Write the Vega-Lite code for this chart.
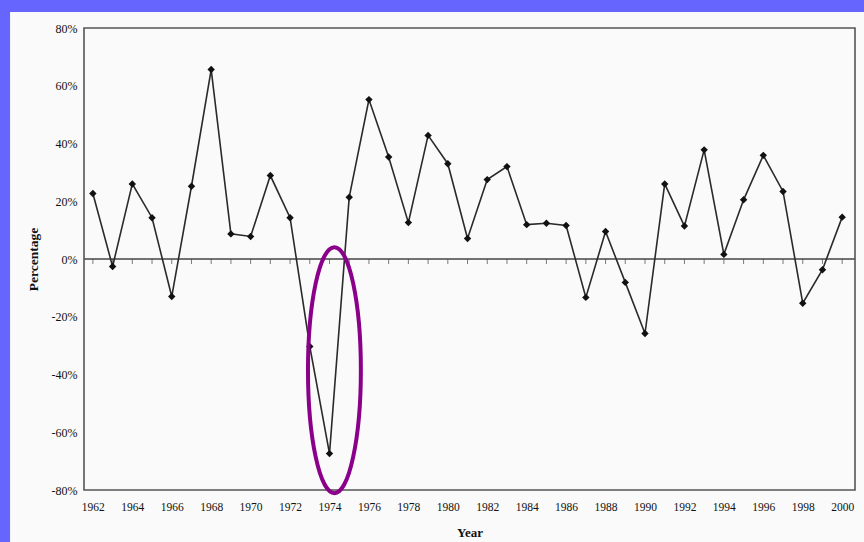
{
  "$schema": "https://vega.github.io/schema/vega-lite/v6.json",
  "autosize": "none",
  "width": 771,
  "height": 462,
  "padding": {"left": 84, "top": 28, "right": 9, "bottom": 52},
  "background": "#6666ff",
  "config": {
    "view": {"stroke": null},
    "axis": {
      "labelFont": "Liberation Serif",
      "labelColor": "#111111",
      "titleFont": "Liberation Serif",
      "titleColor": "#111111",
      "titleFontWeight": "bold",
      "ticks": false,
      "domain": false,
      "grid": false,
      "labelFlush": false
    }
  },
  "datasets": {
    "returns": [
      {"year": 1962, "value": 22.7},
      {"year": 1963, "value": -2.6},
      {"year": 1964, "value": 26.0},
      {"year": 1965, "value": 14.3},
      {"year": 1966, "value": -13.0},
      {"year": 1967, "value": 25.2},
      {"year": 1968, "value": 65.6},
      {"year": 1969, "value": 8.7},
      {"year": 1970, "value": 7.8},
      {"year": 1971, "value": 28.9},
      {"year": 1972, "value": 14.3},
      {"year": 1973, "value": -30.3},
      {"year": 1974, "value": -67.4},
      {"year": 1975, "value": 21.4},
      {"year": 1976, "value": 55.2},
      {"year": 1977, "value": 35.3},
      {"year": 1978, "value": 12.6},
      {"year": 1979, "value": 42.8},
      {"year": 1980, "value": 33.0},
      {"year": 1981, "value": 7.1},
      {"year": 1982, "value": 27.5},
      {"year": 1983, "value": 32.0},
      {"year": 1984, "value": 11.9},
      {"year": 1985, "value": 12.4},
      {"year": 1986, "value": 11.6},
      {"year": 1987, "value": -13.3},
      {"year": 1988, "value": 9.5},
      {"year": 1989, "value": -8.1},
      {"year": 1990, "value": -25.8},
      {"year": 1991, "value": 26.0},
      {"year": 1992, "value": 11.4},
      {"year": 1993, "value": 37.8},
      {"year": 1994, "value": 1.6},
      {"year": 1995, "value": 20.5},
      {"year": 1996, "value": 35.9},
      {"year": 1997, "value": 23.4},
      {"year": 1998, "value": -15.3},
      {"year": 1999, "value": -3.7},
      {"year": 2000, "value": 14.5}
    ],
    "highlight": [{"year": 1974.25, "value": -38.5}]
  },
  "layer": [
    {
      "data": {"name": "returns"},
      "mark": {"type": "line", "color": "#2a2a2a", "strokeWidth": 1.6},
      "encoding": {
        "x": {
          "field": "year", "type": "quantitative",
          "scale": {"domain": [1961.55, 2000.65], "nice": false, "zero": false},
          "axis": {
            "title": "Year",
            "zindex": 2,
            "values": [1962, 1964, 1966, 1968, 1970, 1972, 1974, 1976, 1978, 1980, 1982, 1984, 1986, 1988, 1990, 1992, 1994, 1996, 1998, 2000],
            "format": "d",
            "labelFontSize": 11.5,
            "labelPadding": 11,
            "titlePadding": 14,
            "titleFontSize": 13
          }
        },
        "y": {
          "field": "value", "type": "quantitative",
          "scale": {"domain": [-80, 80], "nice": false, "zero": false},
          "axis": {
            "title": "Percentage",
            "zindex": 2,
            "values": [-80, -60, -40, -20, 0, 20, 40, 60, 80],
            "labelExpr": "datum.value + '%'",
            "labelFontSize": 12,
            "labelPadding": 7,
            "titlePadding": 11,
            "titleFontSize": 13.5
          }
        }
      }
    },
    {
      "data": {"values": [{}]},
      "mark": {"type": "rect", "fill": "#fafafa", "strokeWidth": 0},
      "encoding": {
        "x": {"datum": 1957.8, "type": "quantitative"},
        "x2": {"datum": 2004},
        "y": {"datum": 85.5, "type": "quantitative"},
        "y2": {"datum": -120}
      }
    },
    {
      "data": {"values": [{}]},
      "mark": {"type": "rule", "color": "#444444", "strokeWidth": 1.4},
      "encoding": {
        "x": {"datum": 1961.55, "type": "quantitative"},
        "x2": {"datum": 2000.65},
        "y": {"datum": 0, "type": "quantitative"}
      }
    },
    {
      "data": {"name": "returns"},
      "mark": {"type": "tick", "orient": "vertical", "color": "#444444", "thickness": 1, "size": 5, "yOffset": 2.5},
      "encoding": {
        "x": {"field": "year", "type": "quantitative"},
        "y": {"datum": 0, "type": "quantitative"}
      }
    },
    {
      "data": {"name": "returns"},
      "mark": {"type": "line", "color": "#2a2a2a", "strokeWidth": 1.6},
      "encoding": {
        "x": {"field": "year", "type": "quantitative"},
        "y": {"field": "value", "type": "quantitative"}
      }
    },
    {
      "data": {"name": "returns"},
      "mark": {"type": "point", "shape": "diamond", "filled": true, "color": "#111111", "size": 55, "opacity": 1},
      "encoding": {
        "x": {"field": "year", "type": "quantitative"},
        "y": {"field": "value", "type": "quantitative"}
      }
    },
    {
      "data": {"values": [{}]},
      "mark": {"type": "rect", "fillOpacity": 0, "stroke": "#555555", "strokeWidth": 1.6},
      "encoding": {
        "x": {"datum": 1961.55, "type": "quantitative"},
        "x2": {"datum": 2000.65},
        "y": {"datum": 80, "type": "quantitative"},
        "y2": {"datum": -80}
      }
    },
    {
      "data": {"name": "highlight"},
      "mark": {
        "type": "point",
        "shape": "M0,-1C0.1188,-1,0.215,-0.5523,0.215,0C0.215,0.5523,0.1188,1,0,1C-0.1188,1,-0.215,0.5523,-0.215,0C-0.215,-0.5523,-0.1188,-1,0,-1Z",
        "filled": false,
        "stroke": "#8b008b",
        "strokeWidth": 4,
        "opacity": 1,
        "size": 60516
      },
      "encoding": {
        "x": {"field": "year", "type": "quantitative"},
        "y": {"field": "value", "type": "quantitative"}
      }
    }
  ]
}
